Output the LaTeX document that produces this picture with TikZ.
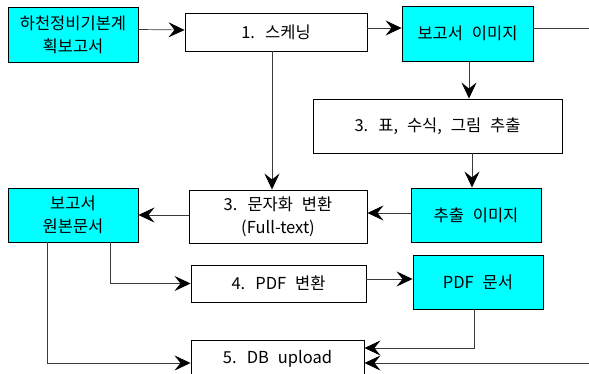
\documentclass[tikz,border=0pt]{standalone}
\usepackage{fontspec}
\setmainfont{Noto Sans CJK KR}[WordSpace=2.4]
\usepackage{tikz}
\usetikzlibrary{arrows.meta}
\usetikzlibrary{calc}
\usetikzlibrary{positioning}
\definecolor{boxcyan}{HTML}{00FFFF}
\definecolor{linegray}{HTML}{3A3A3A}

\begin{document}
\begin{tikzpicture}[x=1pt, y=-1pt,
    stepbox/.style={draw, line width=0.9pt, inner sep=0pt, align=center,
                    font=\fontsize{16.5}{23}\selectfont},
    docbox/.style={stepbox, fill=boxcyan},
    arr/.style={-{Stealth[length=16pt, width=15pt, inset=6pt, color=black]}, draw=linegray, line width=0.7pt}]
            \useasboundingbox (0,0) rectangle (589,374);
            \draw (73,34.5)   node[docbox,  minimum width=130pt, minimum height=55pt] (src)     {하천정비기본계\\획보고서};
            \draw (276,32)    node[stepbox, minimum width=182pt, minimum height=38pt] (scan)    {1. 스케닝};
            \draw (467.5,33.5) node[docbox, minimum width=131pt, minimum height=55pt] (img)     {보고서 이미지};
            \draw (437.5,126) node[stepbox, minimum width=249pt, minimum height=54pt] (extract) {3. 표, 수식, 그림 추출};
            \draw (476,215)   node[docbox,  minimum width=130pt, minimum height=54pt] (eimg)    {추출 이미지};
            \draw (278,216.5) node[stepbox, minimum width=178pt, minimum height=53pt] (fulltext) {3. 문자화 변환\\(Full-text)};
            \draw (73,215)    node[docbox,  minimum width=130pt, minimum height=54pt] (orig)    {보고서\\원본문서};
            \draw (278.5,283.5) node[stepbox, minimum width=175pt, minimum height=37pt] (pdf)   {4. PDF 변환};
            \draw (478,282)   node[docbox,  minimum width=130pt, minimum height=54pt] (pdfdoc)  {PDF 문서};
            \draw (277.5,358.5) node[stepbox, minimum width=173pt, minimum height=37pt] (db)    {5. DB upload};
            \coordinate (edgetop) at (600,28);
            \coordinate (edgebot) at (600,363);

            \draw[arr] ($(src.east)+(0,-5)$) -- ($(scan.west)+(0,-2)$);
            \draw[arr] ($(scan.east)+(0,-4)$) -- ($(img.west)+(0,-5.5)$);
            \draw[draw=linegray, line width=0.7pt] ($(img.east)+(0,-5.5)$) -- (edgetop) -- (edgebot);
            \draw[arr] ($(img.south)+(1.5,0)$) -- ($(extract.north)+(31.5,0)$);
            \draw[arr] ($(extract.south)+(34.5,0)$) -- ($(eimg.north)+(-4,0)$);
            \draw[arr] ($(scan.south)+(-4,0)$) -- ($(fulltext.north)+(-6,0)$);
            \draw[arr] ($(eimg.west)+(0,-2)$) -- ($(fulltext.east)+(0,-3.5)$);
            \draw[arr] ($(fulltext.west)+(0,-1.5)$) -- (orig.east);
            \draw[arr] ($(orig.south)+(37,0)$) |- (pdf.west);
            \draw[arr] ($(pdf.east)+(0,-4.5)$) -- ($(pdfdoc.west)+(0,-3)$);
            \draw[arr] ($(pdfdoc.south)+(-4,0)$) |- ($(db.east)+(0,-10.5)$);
            \draw[arr] ($(orig.south)+(-26,0)$) |- ($(db.west)+(0,4.5)$);
            \draw[arr] (edgebot) -- ($(db.east)+(0,4.5)$);

            \end{tikzpicture}
\end{document}
